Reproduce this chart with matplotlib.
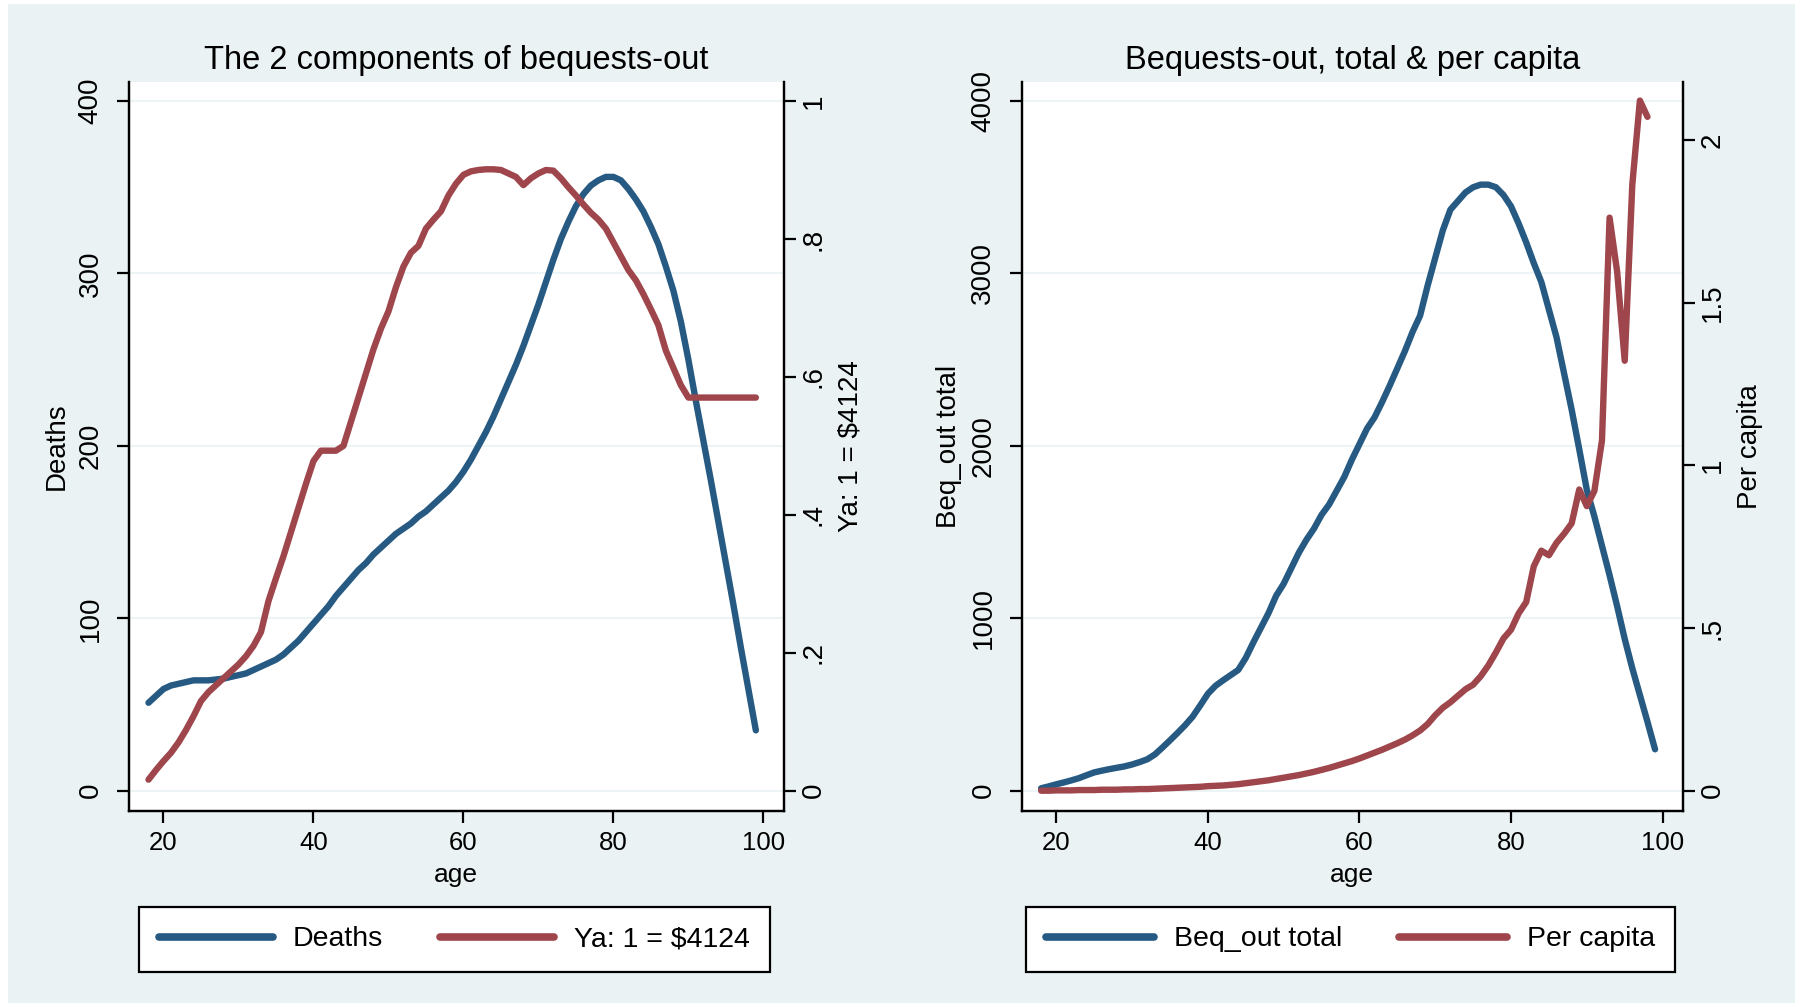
import matplotlib
matplotlib.use("Agg")
import matplotlib.pyplot as plt
from matplotlib import font_manager
from matplotlib.patches import Rectangle
import numpy as np

# ---- data ----
ages = list(range(18, 100))

deaths = [51, 55, 59, 61, 62, 63, 64, 64, 64, 64.5, 65, 66, 67, 68, 70, 72,
          74, 76, 79, 83, 87, 92, 97, 102, 107, 113, 118, 123, 128, 132, 137,
          141, 145, 149, 152, 155, 159, 162, 166, 170, 174, 179, 185, 192, 200,
          208, 217, 227, 237, 247, 258, 270, 282, 295, 308, 320, 330, 339, 346,
          351, 354, 356, 356, 354, 349, 343, 336, 327, 317, 304, 290, 272, 250,
          226, 203, 180, 156, 132, 108, 83, 59, 35]

ya = [0.016, 0.030, 0.043, 0.055, 0.070, 0.088, 0.108, 0.130, 0.143, 0.153,
      0.163, 0.173, 0.183, 0.195, 0.210, 0.230, 0.275, 0.308, 0.340, 0.375,
      0.410, 0.445, 0.478, 0.493, 0.493, 0.493, 0.500, 0.535, 0.570, 0.605,
      0.640, 0.670, 0.695, 0.730, 0.760, 0.780, 0.790, 0.815, 0.828, 0.840,
      0.863, 0.880, 0.893, 0.898, 0.900, 0.901, 0.901, 0.900, 0.895, 0.890,
      0.878, 0.888, 0.895, 0.900, 0.899, 0.888, 0.875, 0.863, 0.850, 0.838,
      0.828, 0.815, 0.795, 0.775, 0.755, 0.740, 0.720, 0.698, 0.675, 0.638,
      0.613, 0.588, 0.570, 0.570, 0.570, 0.570, 0.570, 0.570, 0.570, 0.570,
      0.570, 0.570]

beq_total = [14, 25, 37, 48, 60, 73, 90, 106, 116, 125, 133, 141, 152, 166,
             182, 210, 250, 292, 335, 380, 430, 495, 562, 608, 640, 670, 700,
             770, 860, 945, 1030, 1130, 1200, 1290, 1380, 1455, 1520, 1600,
             1660, 1740, 1820, 1920, 2010, 2100, 2166, 2255, 2350, 2450, 2550,
             2660, 2755, 2930, 3090, 3250, 3370, 3420, 3470, 3500, 3515, 3515,
             3500, 3455, 3389, 3290, 3180, 3060, 2950, 2790, 2630, 2420, 2210,
             1980, 1745, 1590, 1420, 1250, 1070, 880, 710, 555, 400, 240]

ages_pc = list(range(18, 99))
per_capita = [0.000, 0.000, 0.001, 0.001, 0.001, 0.002, 0.002, 0.002, 0.003,
              0.003, 0.003, 0.004, 0.004, 0.005, 0.005, 0.006, 0.007, 0.008,
              0.009, 0.010, 0.011, 0.012, 0.014, 0.015, 0.016, 0.018, 0.020,
              0.023, 0.026, 0.029, 0.032, 0.036, 0.040, 0.044, 0.048, 0.053,
              0.058, 0.064, 0.070, 0.077, 0.084, 0.091, 0.099, 0.108, 0.117,
              0.126, 0.136, 0.146, 0.157, 0.170, 0.185, 0.205, 0.232, 0.255,
              0.272, 0.292, 0.312, 0.326, 0.352, 0.385, 0.425, 0.468, 0.495,
              0.545, 0.580, 0.690, 0.738, 0.724, 0.762, 0.790, 0.822, 0.926,
              0.875, 0.922, 1.077, 1.762, 1.596, 1.322, 1.863, 2.122, 2.072]

x_ticks = [20, 40, 60, 80, 100]

BG = "#EAF2F3"
BLUE = "#275A82"
RED = "#9E464C"

installed = {f.name for f in font_manager.fontManager.ttflist}
NARROW = "Liberation Sans Narrow" if "Liberation Sans Narrow" in installed else "Liberation Sans"
REG = "Liberation Sans"

plt.rcParams["font.family"] = REG

fig = plt.figure(figsize=(18.01, 10.07), dpi=100, facecolor="white")
fig.patches.append(Rectangle((8 / 1801, 4 / 1007), 1787 / 1801, 999 / 1007,
                             transform=fig.transFigure, facecolor=BG,
                             edgecolor="none", zorder=-10))

LW = 4.6


def style_axes(ax, ax2, yticks, ylim, y2ticks, y2labels, y2lim):
    ax.set_facecolor("white")
    ax.set_xlim(15.4, 102.7)
    ax.set_ylim(*ylim)
    ax2.set_ylim(*y2lim)
    ax.set_xticks(x_ticks)
    ax.set_xticklabels([str(t) for t in x_ticks], fontfamily=NARROW, fontsize=18.5)
    ax.set_yticks(yticks)
    ax.set_yticklabels([str(t) for t in yticks], rotation=90, va="center",
                       fontsize=20)
    ax2.set_yticks(y2ticks)
    ax2.set_yticklabels(y2labels, rotation=90, va="center", fontsize=20)
    ax.grid(axis="y", color=BG, lw=1.2)
    ax.set_axisbelow(True)
    for a in (ax, ax2):
        a.spines["top"].set_visible(False)
        for s in ("left", "right", "bottom"):
            a.spines[s].set_linewidth(1.6)
        a.tick_params(width=1.6, length=8.3, color="black")
    ax.tick_params(axis="y", pad=10)
    ax2.tick_params(axis="y", pad=4)
    ax.tick_params(axis="x", pad=6)
    ax.set_xlabel("age", fontfamily=NARROW, fontsize=19, labelpad=6)


def add_legend(handles, labels, cx, hl):
    leg = fig.legend(handles, labels, ncol=2, loc="center",
                     bbox_to_anchor=(cx / 1801, 1 - 939.5 / 1007),
                     prop={"family": NARROW, "size": 20.5}, frameon=True,
                     fancybox=False, edgecolor="black", facecolor="white",
                     framealpha=1, handlelength=hl, handletextpad=0.7,
                     columnspacing=2.0, borderpad=0.7)
    leg.get_frame().set_linewidth(1.6)
    for h in leg.get_lines():
        h.set_linewidth(5.5)
    return leg


# ---- left panel ----
ax = fig.add_axes([129 / 1801, 1 - 810.7 / 1007, 654.6 / 1801, 729 / 1007])
ax2 = ax.twinx()
l1, = ax.plot(ages, deaths, color=BLUE, lw=LW, solid_capstyle="round")
l2, = ax2.plot(ages, ya, color=RED, lw=LW, solid_capstyle="round")
style_axes(ax, ax2, [0, 100, 200, 300, 400], (-11.6, 411.2),
           [0, 0.2, 0.4, 0.6, 0.8, 1], ["0", ".2", ".4", ".6", ".8", "1"],
           (-0.029, 1.028))
ax.set_ylabel("Deaths", fontsize=20, labelpad=6)
ax2.set_ylabel("Ya: 1 = $4124", fontsize=20, labelpad=8)
ax.set_title("The 2 components of bequests-out", fontfamily=NARROW,
             fontsize=23.5, pad=9)
add_legend([l1, l2], ["Deaths", "Ya: 1 = $4124"], 454.5, 4.0)

# ---- right panel ----
bx = fig.add_axes([1021.8 / 1801, 1 - 810.7 / 1007, 660.9 / 1801, 729 / 1007])
bx2 = bx.twinx()
m1, = bx.plot(ages, beq_total, color=BLUE, lw=LW, solid_capstyle="round")
m2, = bx2.plot(ages_pc, per_capita, color=RED, lw=LW, solid_capstyle="round")
style_axes(bx, bx2, [0, 1000, 2000, 3000, 4000], (-116, 4112),
           [0, 0.5, 1, 1.5, 2], ["0", ".5", "1", "1.5", "2"],
           (-0.0615, 2.18))
bx.set_xlim(15.45, 102.65)
bx.set_ylabel("Beq_out total", fontsize=20, labelpad=6)
bx2.set_ylabel("Per capita", fontsize=20, labelpad=8)
bx.set_title("Bequests-out, total & per capita", fontfamily=NARROW,
             fontsize=23.5, pad=9)
add_legend([m1, m2], ["Beq_out total", "Per capita"], 1350.5, 3.8)

fig.savefig("out.png", dpi=100, facecolor=fig.get_facecolor())
